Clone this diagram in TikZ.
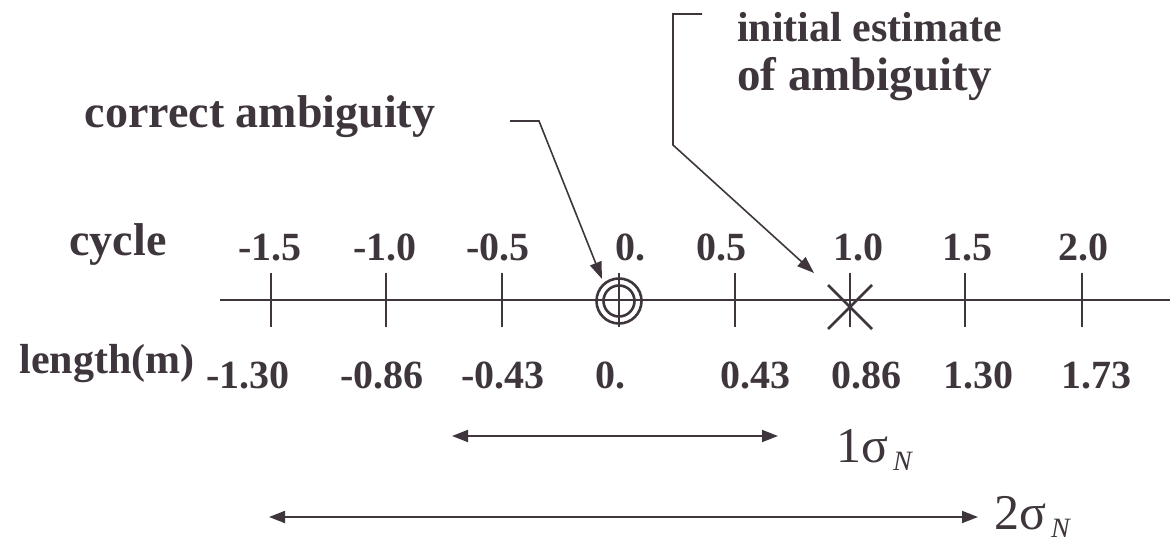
\documentclass[tikz,border=0pt]{standalone}
\usepackage{fontspec}
\setmainfont{Liberation Serif}
\usetikzlibrary{arrows.meta}
\definecolor{ink}{RGB}{62,54,60}
\tikzset{
  lbl/.style={font=\bfseries\fontsize{46}{50}\selectfont, text=ink, inner sep=0pt, anchor=base},
  num/.style={font=\bfseries\fontsize{40}{44}\selectfont, text=ink, inner sep=0pt, anchor=base},
  sig/.style={font=\fontsize{50}{54}\selectfont, text=ink, inner sep=0pt, anchor=base west},
  axis/.style={draw=ink, line width=2pt},
  tick/.style={draw=ink, line width=1.8pt},
  call/.style={draw=ink, line width=1.6pt},
  tip/.style={-{Triangle[length=17pt,width=12pt]}},
  dtip/.style={{Triangle[length=16pt,width=12pt]}-{Triangle[length=16pt,width=12pt]}},
}
\newcommand{\subN}{\hspace{5pt}\raisebox{-8pt}{\fontsize{28}{30}\selectfont\itshape N}}
\begin{document}
\begin{tikzpicture}[x=1pt,y=-1pt]
\useasboundingbox (0,0) rectangle (1170,545);
% axis
\coordinate (axL) at (220,300);
\coordinate (axR) at (1170,300);
\draw[axis] (axL) -- (axR);
% ticks
\foreach \x/\n in {271/a,386/b,502/c,619/d,735/e,850/f,965/g,1082/h}{
  \coordinate (t\n top) at (\x,273);
  \coordinate (t\n bot) at (\x,327);
  \draw[tick] (t\n top) -- (t\n bot);
}
% correct ambiguity marker
\node[circle, draw=ink, line width=2.6pt, minimum size=45pt, inner sep=0pt] (corr) at (619,301) {};
\node[circle, draw=ink, line width=2.6pt, minimum size=31pt, inner sep=0pt] (corrin) at (619,301) {};
% initial estimate marker
\coordinate (xa) at (828,285);
\coordinate (xb) at (872,329);
\coordinate (xc) at (828,329);
\coordinate (xd) at (872,285);
\draw[draw=ink, line width=2.8pt] (xa) -- (xb) (xc) -- (xd);
% cycle labels
\node[lbl] (cyc) at (118,256) {cycle};
\foreach \x/\t/\n in {270/-1.5/a,385/-1.0/b,498/-0.5/c,630/0./d,721/0.5/e,858/1.0/f,967/1.5/g,1083/2.0/h}{
  \node[num] (c\n) at (\x,261) {\t};
}
% length labels
\node[lbl, font=\bfseries\fontsize{42}{46}\selectfont] (len) at (107,373) {length(m)};
\foreach \x/\t/\n in {248/-1.30/a,382/-0.86/b,503/-0.43/c,610/0./d,755/0.43/e,866/0.86/f,978/1.30/g,1096/1.73/h}{
  \node[num] (l\n) at (\x,388) {\t};
}
% callout: correct ambiguity
\node[lbl] (ctext) at (260,128) {correct ambiguity};
\coordinate (p1) at (510,121);
\coordinate (p2) at (539,121);
\coordinate (p3) at (602,279);
\draw[call, tip] (p1) -- (p2) -- (p3);
% callout: initial estimate
\node[lbl, anchor=base west, font=\bfseries\fontsize{42}{46}\selectfont] (itext1) at (737,42) {initial estimate};
\node[lbl, anchor=base west, font=\bfseries\fontsize{47}{50}\selectfont] (itext2) at (737,91) {of ambiguity};
\coordinate (q1) at (702,14);
\coordinate (q2) at (673,14);
\coordinate (q3) at (673,145);
\coordinate (q4) at (814,273);
\draw[call, tip] (q1) -- (q2) -- (q3) -- (q4);
% sigma ranges
\coordinate (s1a) at (452,436);
\coordinate (s1b) at (778,436);
\draw[call, line width=1.8pt, dtip] (s1a) -- (s1b);
\node[sig] (s1) at (836,462) {1σ\subN};
\coordinate (s2a) at (269,517);
\coordinate (s2b) at (978,517);
\draw[call, line width=1.8pt, dtip] (s2a) -- (s2b);
\node[sig] (s2) at (994,529) {2σ\subN};
\end{tikzpicture}
\end{document}
